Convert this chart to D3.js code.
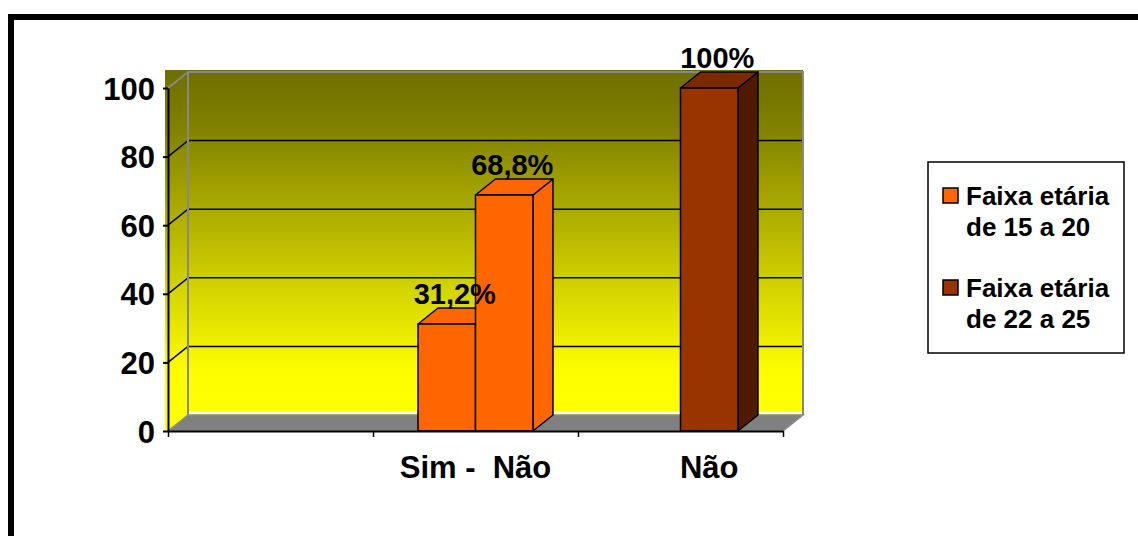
<!DOCTYPE html>
<html>
<head>
<meta charset="utf-8">
<script src="https://cdn.jsdelivr.net/npm/d3@7"></script>
<style>
  html, body { margin: 0; padding: 0; background: #fff; }
  svg { display: block; font-family: "Liberation Sans", Arial, sans-serif; font-weight: bold; }
</style>
</head>
<body>
<svg id="chart" width="1138" height="536"></svg>
<script>
// chart values
const categories = ['', 'Sim -  Não', 'Não'];
const answers = ['Sim', 'Não'];
const simValues = [null, 31.2, null];
const naoValues = [null, 68.8, 100];
const categoryGroup = [null, 0, 1];
const groupLabels = [['Faixa etária', 'de 15 a 20'], ['Faixa etária', 'de 22 a 25']];
const yTicks = [0, 20, 40, 60, 80, 100];

const palette = [
  { front: '#ff6600', top: '#ff6600', side: '#ff6600' },
  { front: '#993300', top: '#7a2900', side: '#4f1a00' }
];

const svg = d3.select('#chart');
const dx = 20;
const dy = -16;

const y = d3.scaleLinear().domain([0, 100]).range([431, 88]);
const x = d3.scaleBand().domain(d3.range(categories.length)).range([168, 783]).padding(0);
const xs = d3.scaleBand().domain(answers).range([0, x.bandwidth()]).paddingInner(0).paddingOuter(0.783);
const xEdge = d3.scaleLinear().domain([0, categories.length]).range([168, 783]);

const bars = [];
categories.forEach((c, i) => {
  [simValues, naoValues].forEach((vals, j) => {
    if (vals[i] != null) {
      bars.push({ cat: i, answer: answers[j], value: vals[i], group: categoryGroup[i] });
    }
  });
});

// outer frame
svg.append('rect')
  .attr('x', 11).attr('y', 17)
  .attr('width', 1200).attr('height', 600)
  .attr('fill', 'none')
  .attr('stroke', '#000')
  .attr('stroke-width', 6);

// wall gradient
const grad = svg.append('defs').append('linearGradient')
  .attr('id', 'wall')
  .attr('gradientUnits', 'userSpaceOnUse')
  .attr('x1', 0).attr('y1', y(100) + dy - 2)
  .attr('x2', 0).attr('y2', y(0) + dy - 4);
grad.append('stop').attr('offset', 0).attr('stop-color', '#6f6f00');
grad.append('stop').attr('offset', 0.15).attr('stop-color', '#7e7e00');
grad.append('stop').attr('offset', 0.88).attr('stop-color', '#fdfd00');
grad.append('stop').attr('offset', 1).attr('stop-color', '#ffff00');

const x0 = xEdge(0);
const x1 = xEdge(categories.length);
const wallTop = y(100) + dy - 2;
const floorBack = y(0) + dy;

svg.append('polygon')
  .attr('points', [[x0 - 3, wallTop], [x1 + dx, wallTop], [x1 + dx, floorBack], [x1, y(0)], [x0 - 3, y(0)]].join(' '))
  .attr('fill', 'url(#wall)');

// floor
svg.append('rect')
  .attr('x', x0 + dx).attr('y', floorBack - 4)
  .attr('width', x1 - x0).attr('height', 3)
  .attr('fill', '#fff');
svg.append('polygon')
  .attr('points', [[x0, y(0)], [x0 + dx, floorBack], [x1 + dx, floorBack], [x1, y(0)]].join(' '))
  .attr('fill', '#808080')
  .attr('stroke', '#8c8c8c')
  .attr('stroke-width', 1.5);

// gridlines on back and side walls
const grid = svg.append('g');
yTicks.filter(t => t > 0 && t < 100).forEach(t => {
  grid.append('line')
    .attr('x1', x0 + dx).attr('x2', x1 + dx)
    .attr('y1', y(t) + dy).attr('y2', y(t) + dy)
    .attr('stroke', '#000').attr('stroke-width', 1.5);
  grid.append('line')
    .attr('x1', x0).attr('x2', x0 + dx)
    .attr('y1', y(t)).attr('y2', y(t) + dy)
    .attr('stroke', '#000').attr('stroke-width', 1.5);
});

// wall edges
svg.append('path')
  .attr('d', `M${x0},${y(100)}L${x0 + dx},${y(100) + dy}H${x1 + dx}V${floorBack}M${x0 + dx},${y(100) + dy}V${floorBack}`)
  .attr('fill', 'none')
  .attr('stroke', '#888')
  .attr('stroke-width', 2);

// bars
const barX = d => x(d.cat) + xs(d.answer);
const bw = xs.bandwidth();
const barG = svg.append('g')
  .selectAll('g')
  .data(bars)
  .enter()
  .append('g')
  .attr('stroke', '#000')
  .attr('stroke-width', 1.5)
  .attr('stroke-linejoin', 'round');

barG.append('polygon')
  .attr('points', d => {
    const l = barX(d), r = l + bw, t = y(d.value), b = y(0);
    return [[r, t], [r + dx, t + dy], [r + dx, b + dy], [r, b]].join(' ');
  })
  .attr('fill', d => palette[d.group].side);

barG.append('polygon')
  .attr('points', d => {
    const l = barX(d), r = l + bw, t = y(d.value);
    return [[l, t], [l + dx, t + dy], [r + dx, t + dy], [r, t]].join(' ');
  })
  .attr('fill', d => palette[d.group].top);

barG.append('rect')
  .attr('x', barX)
  .attr('y', d => y(d.value))
  .attr('width', bw)
  .attr('height', d => y(0) - y(d.value))
  .attr('fill', d => palette[d.group].front);

// value labels
svg.append('g')
  .selectAll('text')
  .data(bars)
  .enter()
  .append('text')
  .attr('x', d => barX(d) + bw / 2 + 8)
  .attr('y', d => y(d.value) + dy - 4)
  .attr('text-anchor', 'middle')
  .attr('font-size', 29)
  .attr('fill', '#000')
  .text(d => `${String(d.value).replace('.', ',')}%`);

// y axis
const yAxis = svg.append('g')
  .attr('transform', `translate(${x0},0)`)
  .call(d3.axisLeft(y).tickValues(yTicks).tickSize(5).tickSizeOuter(0).tickPadding(8));
yAxis.select('.domain').attr('stroke', '#000').attr('stroke-width', 2);
yAxis.selectAll('.tick line').attr('stroke', '#000').attr('stroke-width', 2);
yAxis.selectAll('.tick text')
  .attr('font-size', 31)
  .attr('font-family', '"Liberation Sans", Arial, sans-serif')
  .attr('font-weight', 'bold')
  .attr('fill', '#000')
  .attr('dy', '0.36em');

// x axis, ticks between categories
const xAxis = svg.append('g')
  .attr('transform', `translate(0,${y(0)})`)
  .call(d3.axisBottom(xEdge).tickValues(d3.range(categories.length + 1)).tickFormat('').tickSize(6).tickSizeOuter(0));
xAxis.select('.domain').attr('stroke', '#000').attr('stroke-width', 2);
xAxis.selectAll('.tick line').attr('stroke', '#000').attr('stroke-width', 1.5);

// category labels, centred under the drawn bars
svg.append('g')
  .selectAll('text')
  .data(categories.map((c, i) => ({ c, i })).filter(d => d.c !== ''))
  .enter()
  .append('text')
  .attr('x', d => {
    const own = bars.filter(b => b.cat === d.i);
    return d3.mean(own, b => barX(b) + bw / 2);
  })
  .attr('y', 478)
  .attr('text-anchor', 'middle')
  .attr('font-size', 31)
  .style('white-space', 'pre')
  .text(d => d.c);

// legend
const legend = svg.append('g').attr('transform', 'translate(928,162)');
legend.append('rect')
  .attr('width', 196).attr('height', 191)
  .attr('fill', '#fff')
  .attr('stroke', '#000')
  .attr('stroke-width', 1.5);
const item = legend.selectAll('.item')
  .data(groupLabels)
  .enter()
  .append('g')
  .attr('class', 'item')
  .attr('transform', (d, i) => `translate(0,${i * 92})`);
item.append('rect')
  .attr('x', 15).attr('y', 26)
  .attr('width', 15).attr('height', 15)
  .attr('fill', (d, i) => palette[i].front)
  .attr('stroke', '#000')
  .attr('stroke-width', 1.5);
item.append('text')
  .attr('font-size', 26)
  .selectAll('tspan')
  .data(d => d)
  .enter()
  .append('tspan')
  .attr('x', 38)
  .attr('y', (d, i) => 43 + i * 31)
  .text(d => d);
</script>
</body>
</html>
